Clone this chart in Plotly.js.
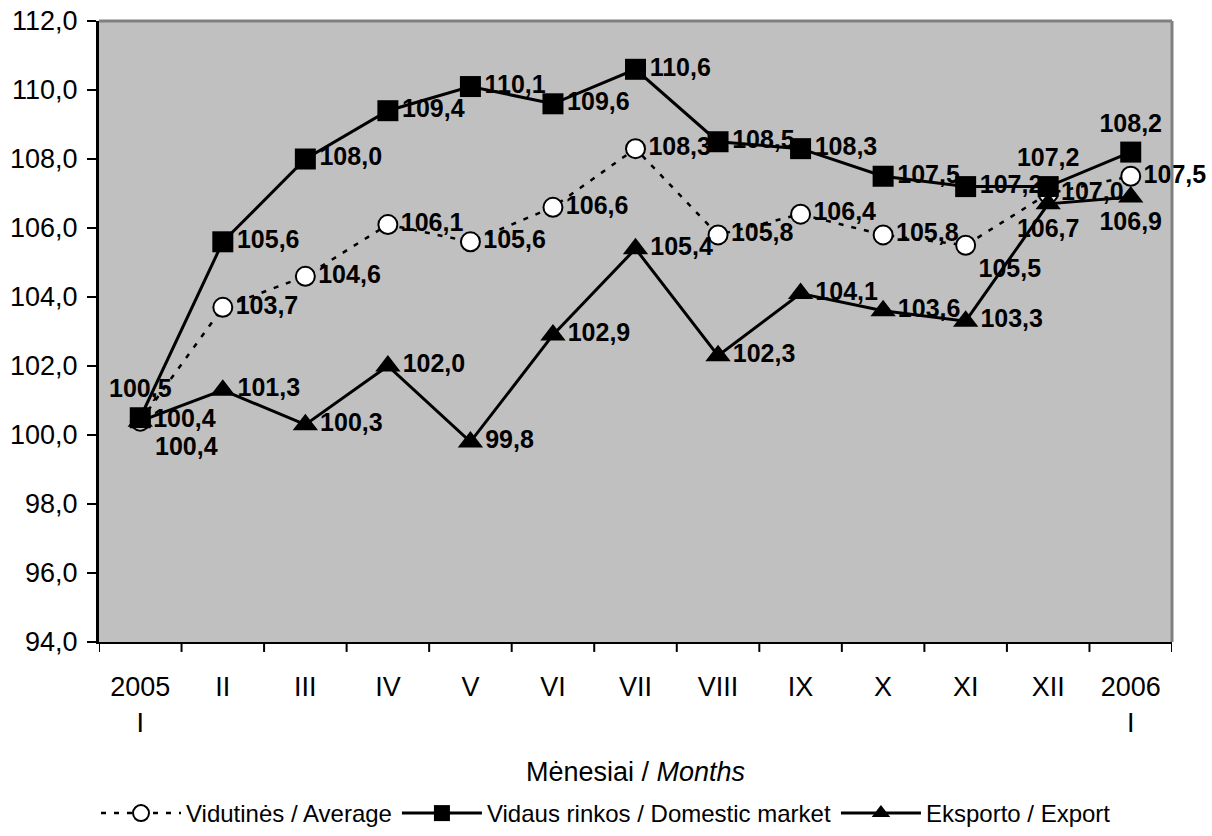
<!DOCTYPE html>
<html><head><meta charset="utf-8">
<script src="https://cdn.plot.ly/plotly-3.0.1.min.js"></script>
<style>body{margin:0;background:#fff}#c{width:1212px;height:836px}</style>
</head><body><div id="c"></div>
<script>
const categories = ["2005<br>I","II","III","IV","V","VI","VII","VIII","IX","X","XI","XII","2006<br>I"];
const average  = [100.4,103.7,104.6,106.1,105.6,106.6,108.3,105.8,106.4,105.8,105.5,107.0,107.5];
const domestic = [100.5,105.6,108.0,109.4,110.1,109.6,110.6,108.5,108.3,107.5,107.2,107.2,108.2];
const exportV  = [100.4,101.3,100.3,102.0,99.8,102.9,105.4,102.3,104.1,103.6,103.3,106.7,106.9];
const yTicks = [94,96,98,100,102,104,106,108,110,112];
const xTitle = 'Mėnesiai / <i>Months</i>';

const fmt = v => v.toFixed(1).replace('.', ',');
const xIdx = categories.map((c,i)=>i);
const n = categories.length;

const domPos = domestic.map((v,i)=> (i===0 || i>=n-2) ? 'top center' : 'middle right');
const expPos = exportV.map((v,i)=> i===0 ? 'bottom right' : (i>=n-2 ? 'bottom center' : 'middle right'));
const avgPos = average.map((v,i)=> i===n-3 ? 'bottom right' : 'middle right');

const FF = 'Liberation Sans, Arial, sans-serif';
const tf = {family:FF, size:25, color:'#000', weight:'bold'};

const traces = [
 {x:xIdx, y:average, name:'Vidutinės / Average', mode:'lines+markers+text',
  line:{color:'#000', width:2.5, dash:'5px,8px'},
  marker:{symbol:'circle', size:19, color:'#fff', line:{color:'#000', width:2}},
  text:average.map(fmt), textposition:avgPos, textfont:tf, cliponaxis:false},
 {x:xIdx, y:domestic, name:'Vidaus rinkos / Domestic market', mode:'lines+markers+text',
  line:{color:'#000', width:3},
  marker:{symbol:'square', size:21, color:'#000'},
  text:domestic.map(fmt), textposition:domPos, textfont:tf, cliponaxis:false},
 {x:xIdx, y:exportV, name:'Eksporto / Export', mode:'lines+markers+text',
  line:{color:'#000', width:3},
  marker:{symbol:'triangle-up', size:22, color:'#000'},
  text:exportV.map(fmt), textposition:expPos, textfont:tf, cliponaxis:false}
];

const layout = {
 width:1212, height:836,
 margin:{l:99, r:40, t:21, b:194},
 paper_bgcolor:'#fff', plot_bgcolor:'#c0c0c0',
 font:{family:FF, size:27, color:'#000'},
 showlegend:true,
 legend:{orientation:'h', x:0.5, xanchor:'center', xref:'container', y:0, yanchor:'bottom', yref:'container',
   font:{size:24}, tracegroupgap:0, itemwidth:80},
 xaxis:{range:[-0.5, n-0.5], tickmode:'array', tickvals:xIdx, ticktext:categories,
   showgrid:false, zeroline:false, showline:true, linecolor:'#000', linewidth:2,
   ticks:'', ticklabelstandoff:20, tickfont:{size:27}, fixedrange:true},
 yaxis:{range:[94,112], tickmode:'array', tickvals:yTicks, ticktext:yTicks.map(fmt),
   showgrid:false, zeroline:false, showline:true, linecolor:'#000', linewidth:3,
   ticks:'outside', ticklen:9, tickwidth:2, tickcolor:'#000', tickfont:{size:27},
   ticklabelstandoff:4, fixedrange:true},
 annotations:[{text:xTitle, xref:'paper', yref:'paper', x:0.5, y:-0.209, xanchor:'center', yanchor:'middle',
   showarrow:false, font:{size:27}}],
 shapes:[
  {type:'line', xref:'paper', yref:'paper', x0:0, x1:1, y0:1, y1:1, line:{color:'#808080', width:3}},
  {type:'line', xref:'paper', yref:'paper', x0:1, x1:1, y0:0, y1:1, line:{color:'#808080', width:3}}
 ].concat(Array.from({length:n+1},(_,i)=>({type:'line', xref:'x', yref:'paper', x0:i-0.5, x1:i-0.5, y0:0, y1:-0.016, line:{color:'#000', width:2}})))
};

Plotly.newPlot('c', traces, layout, {displayModeBar:false, staticPlot:true});
</script></body></html>
